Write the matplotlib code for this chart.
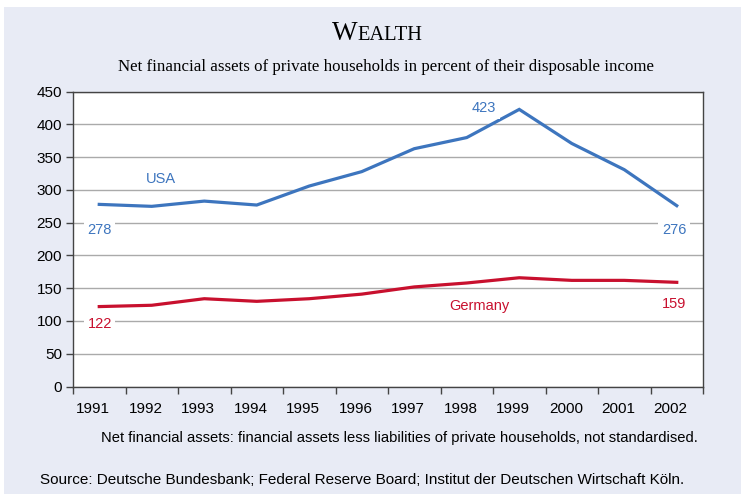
import matplotlib
matplotlib.use("Agg")
import matplotlib.pyplot as plt
import matplotlib.transforms as mtransforms
from matplotlib.patches import Rectangle

years = ["1991", "1992", "1993", "1994", "1995", "1996", "1997", "1998", "1999", "2000", "2001", "2002"]
usa = [278, 275, 283, 277, 306, 328, 363, 380, 423, 371, 331, 276]
germany = [122, 124, 134, 130, 134, 141, 152, 158, 166, 162, 162, 159]
yticks = [0, 50, 100, 150, 200, 250, 300, 350, 400, 450]

BLUE = "#3D75BE"
RED = "#C8102E"
BG = "#E8EBF5"
SANS = "Liberation Sans"
SERIF = "Liberation Serif"

W, H = 741, 494
fig = plt.figure(figsize=(W / 100, H / 100), dpi=100)
fig.patch.set_facecolor("white")
fig.patches.append(Rectangle((4 / W, 0), 1 - 4 / W, 1 - 7 / H, transform=fig.transFigure,
                             facecolor=BG, edgecolor="none", zorder=-10))

left, right, top, bottom = 73, 703, 91.7, 386.5
ax = fig.add_axes([left / W, 1 - bottom / H, (right - left) / W, (bottom - top) / H])
ax.set_facecolor("white")

x = list(range(len(years)))
ax.plot(x, usa, color=BLUE, lw=2.3, solid_joinstyle="miter", zorder=3)
ax.plot(x, germany, color=RED, lw=2.3, solid_joinstyle="miter", zorder=3)

ax.set_xlim(-0.5, len(years) - 0.5)
ax.set_ylim(0, 450)
ax.set_yticks(yticks)
ax.set_yticklabels([str(v) for v in yticks], fontfamily=SANS, fontsize=11)
ax.set_xticks(x)
ax.set_xticklabels(years, fontfamily=SANS, fontsize=11)
ax.set_xticks([i - 0.5 for i in range(len(years) + 1)], minor=True)
ax.tick_params(axis="x", which="major", length=0, pad=11)
ax.tick_params(axis="x", which="minor", length=5, width=1, color="#444444", direction="out")
ax.tick_params(axis="y", length=5, width=1, color="#444444", direction="out", pad=3)
off = mtransforms.ScaledTranslation(-6 / 100, 0, fig.dpi_scale_trans)
for t in ax.get_xticklabels():
    t.set_transform(t.get_transform() + off)
for s in ax.spines.values():
    s.set_color("#444444")
    s.set_linewidth(1.0)
ax.grid(axis="y", color="#AAAAAA", lw=1.0, zorder=0)
ax.set_axisbelow(True)

bb = dict(facecolor="white", edgecolor="none", pad=2.5)
def lab(xx, yy, s, c):
    ax.text(xx, yy, s, color=c, fontfamily=SANS, fontsize=10.5, ha="center", va="center",
            bbox=bb, zorder=4)

lab(0, 239, str(usa[0]), BLUE)
lab(1.18, 317, "USA", BLUE)
lab(7.33, 425, str(max(usa)), BLUE)
lab(10.95, 239, str(usa[-1]), BLUE)
lab(7.25, 123, "Germany", RED)
lab(0.01, 95, str(germany[0]), RED)
lab(10.95, 126, str(germany[-1]), RED)

# Title in small caps
fig.canvas.draw()
r = fig.canvas.get_renderer()
t1 = fig.text(0, 0, "W", fontfamily=SERIF, fontsize=19.5)
t2 = fig.text(0, 0, "EALTH", fontfamily=SERIF, fontsize=14.8)
w1 = t1.get_window_extent(r).width
w2 = t2.get_window_extent(r).width
cx = 377
x0 = cx - (w1 + w2) / 2
ybase = 1 - 40 / H
t1.set_position((x0 / W, ybase))
t2.set_position(((x0 + w1) / W, ybase))
t1.set_va("baseline")
t2.set_va("baseline")

fig.text(386 / W, 1 - 67 / H, "Net financial assets of private households in percent of their disposable income",
         fontfamily=SERIF, fontsize=12.2, ha="center", va="center")
fig.text(101 / W, 1 - 438 / H, "Net financial assets: financial assets less liabilities of private households, not standardised.",
         fontfamily=SANS, fontsize=10.6, ha="left", va="center")
fig.text(40 / W, 1 - 480 / H, "Source: Deutsche Bundesbank; Federal Reserve Board; Institut der Deutschen Wirtschaft Köln.",
         fontfamily=SANS, fontsize=11, ha="left", va="center")

fig.savefig("out.png", dpi=100)
